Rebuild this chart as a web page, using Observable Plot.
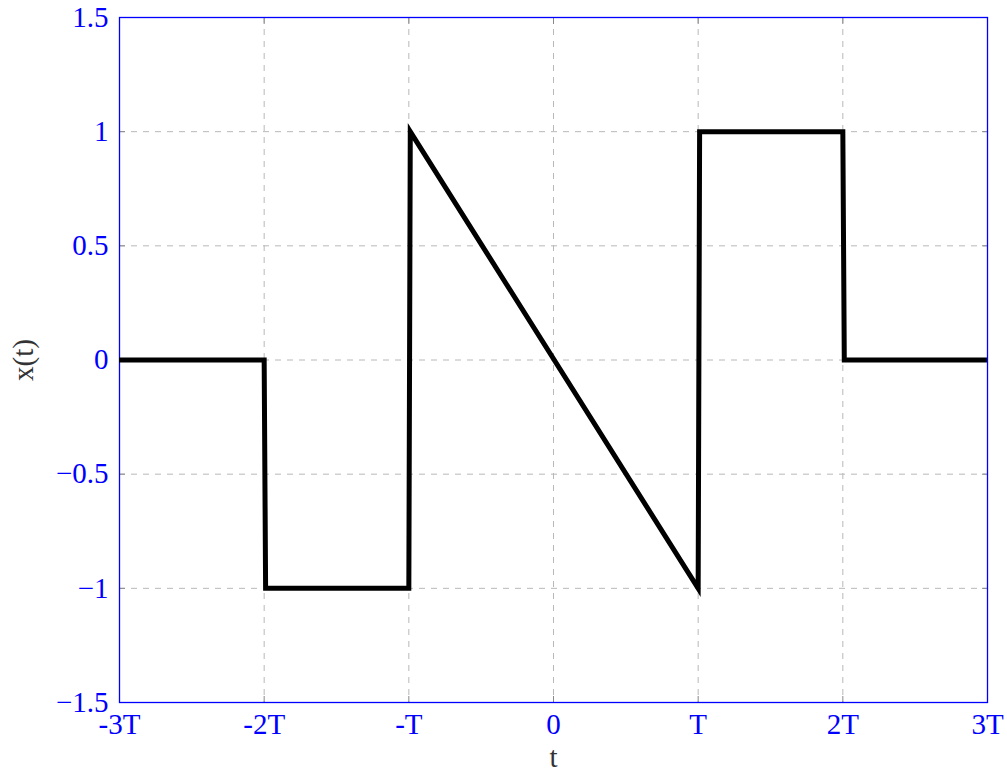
<!DOCTYPE html>
<html>
<head>
<meta charset="utf-8">
<script src="https://cdn.jsdelivr.net/npm/d3@7"></script>
<script src="https://cdn.jsdelivr.net/npm/@observablehq/plot@0.6"></script>
<style>
  html, body { margin: 0; padding: 0; background: #fff; }
  #chart svg { display: block; }
</style>
</head>
<body>
<div id="chart"></div>
<script>
// Piecewise signal x(t), t in units of T
const tValues = [-3, -2, -1.99, -1, -0.99, 1, 1.01, 2, 2.01, 3];
const xValues = [0, 0, -1, -1, 1, -1, 1, 1, 0, 0];

// Axis ticks and their labels
const tTicks = [-3, -2, -1, 0, 1, 2, 3];
const tTickLabels = ["-3T", "-2T", "-T", "0", "T", "2T", "3T"];
const yTicks = [-1.5, -1, -0.5, 0, 0.5, 1, 1.5];
const yTickLabels = ["\u22121.5", "\u22121", "\u22120.5", "0", "0.5", "1", "1.5"];

const signal = tValues.map((t, i) => ({t, x: xValues[i]}));

const font = "'Liberation Serif', 'DejaVu Serif', serif";
const blue = "#0000ff";

const chart = Plot.plot({
  width: 1007,
  height: 773,
  marginLeft: 119,
  marginRight: 20,
  marginTop: 17,
  marginBottom: 71,
  style: {fontFamily: font, background: "#fff", overflow: "visible"},
  x: {domain: [-3, 3]},
  y: {domain: [-1.5, 1.5]},
  marks: [
    Plot.gridX(tTicks, {stroke: "#b8b8b8", strokeOpacity: 1, strokeDasharray: "6,6", strokeWidth: 1}),
    Plot.gridY(yTicks, {stroke: "#b8b8b8", strokeOpacity: 1, strokeDasharray: "6,6", strokeWidth: 1}),
    // inward tick marks on all four sides
    Plot.axisX(tTicks, {anchor: "bottom", tickSize: -6, stroke: "#888", text: null, label: null}),
    Plot.axisX(tTicks, {anchor: "top", tickSize: -6, stroke: "#888", text: null, label: null}),
    Plot.axisY(yTicks, {anchor: "left", tickSize: -6, stroke: "#888", text: null, label: null}),
    Plot.axisY(yTicks, {anchor: "right", tickSize: -6, stroke: "#888", text: null, label: null}),
    // tick labels
    Plot.axisX(tTicks, {
      anchor: "bottom", tickSize: 0, tickPadding: 11, fill: blue, fontSize: 29,
      tickFormat: d => tTickLabels[tTicks.indexOf(d)], label: null
    }),
    Plot.axisY(yTicks, {
      anchor: "left", tickSize: 0, tickPadding: 11, fill: blue, fontSize: 29,
      tickFormat: d => yTickLabels[yTicks.indexOf(d)], label: null
    }),
    Plot.frame({stroke: blue, strokeWidth: 1.3}),
    Plot.line(signal, {
      x: "t", y: "x", stroke: "#000", strokeWidth: 5,
      strokeLinejoin: "miter", strokeMiterlimit: 20, clip: true
    }),
    // axis titles
    Plot.text(["t"], {
      frameAnchor: "bottom", dy: 55, lineAnchor: "middle", textAnchor: "middle",
      fontSize: 29, fill: "#333", text: d => d
    }),
    Plot.text(["x(t)"], {
      frameAnchor: "left", dx: -96, rotate: -90, lineAnchor: "middle", textAnchor: "middle",
      fontSize: 29, fill: "#333", text: d => d
    })
  ]
});

document.getElementById("chart").appendChild(chart);
</script>
</body>
</html>
